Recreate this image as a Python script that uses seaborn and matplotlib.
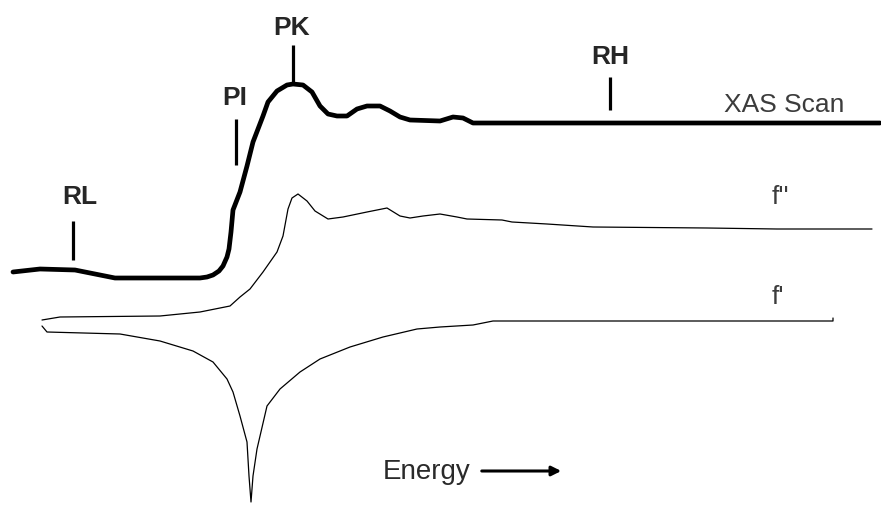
import numpy as np
import pandas as pd
import seaborn as sns
import matplotlib.pyplot as plt

sns.set_style("white")
plt.rcParams["font.family"] = ["Liberation Sans", "DejaVu Sans"]

# curves (energy -> signal, drawing units, y grows downward)
xas_x = [13, 40, 75, 100, 115, 200, 207, 213, 219, 223, 227, 229, 231, 233, 240, 247, 253,
         258, 263, 268, 277, 287, 293, 303, 312, 320, 328, 337, 347, 357, 367, 380, 390,
         400, 410, 440, 453, 463, 473, 880]
xas_y = [273, 270, 271, 276, 279, 279, 278, 276, 272, 267, 258, 250, 233, 211, 193, 167, 143,
         130, 117, 103, 92, 86, 85, 86, 93, 107, 115, 117, 117, 110, 107, 107, 112,
         118, 121, 122, 118, 119, 124, 124]

fpp_x = [42, 60, 160, 200, 230, 240, 250, 263, 277, 283, 288, 292, 298, 307, 315, 328, 343,
         367, 387, 400, 410, 423, 440, 457, 467, 502, 512, 547, 593, 707, 777, 872]
fpp_y = [321, 318, 317, 313, 307, 298, 290, 273, 253, 237, 210, 199, 195, 202, 212, 220, 218,
         213, 209, 217, 219, 217, 215, 218, 220, 221, 223, 225, 228, 229, 230, 230]

fp_x = [42, 47, 120, 160, 193, 213, 227, 233, 240, 247, 249, 251, 253, 257, 267, 280, 300,
        320, 350, 383, 417, 440, 473, 493, 833, 833]
fp_y = [327, 333, 335, 342, 352, 363, 380, 393, 417, 443, 477, 503, 477, 450, 407, 390, 373,
        360, 348, 338, 330, 328, 326, 322, 322, 319]

# marker labels: name, tick energy, tick top/bottom, text centre
marks = ["RL", "PI", "PK", "RH"]
mark_x = [73, 236, 293, 610]
mark_top = [222, 120, 46, 78]
mark_bot = [261, 166, 85, 111]
mark_text_x = [80, 235, 292, 610]
mark_text_y = [197, 98, 28, 57]

fig = plt.figure(figsize=(8.81, 5.06), dpi=100)
ax = fig.add_axes([0, 0, 1, 1])

sns.lineplot(x=xas_x, y=xas_y, ax=ax, color="black", lw=3.4, sort=False, estimator=None)
sns.lineplot(x=fpp_x, y=fpp_y, ax=ax, color="black", lw=0.9, sort=False, estimator=None)
sns.lineplot(x=fp_x, y=fp_y, ax=ax, color="black", lw=0.9, sort=False, estimator=None)

for name, x, y0, y1, tx, ty in zip(marks, mark_x, mark_top, mark_bot, mark_text_x, mark_text_y):
    ax.plot([x, x], [y0, y1], color="black", lw=2.3, solid_capstyle="butt")
    ax.text(tx, ty, name, ha="center", va="center", fontsize=19, fontweight="bold")

ax.text(784, 105, "XAS Scan", ha="center", va="center", fontsize=19, color="#3c3c3c")
ax.text(780, 197, "f''", ha="center", va="center", fontsize=19, color="#3c3c3c")
ax.text(778, 297, "f'", ha="center", va="center", fontsize=19, color="#3c3c3c")
ax.text(383, 472, "Energy", ha="left", va="center", fontsize=20, color="#2a2a2a")
ax.annotate("", xy=(564, 472), xytext=(479, 472),
            arrowprops=dict(arrowstyle="-|>", color="black", lw=2.2, mutation_scale=14))

ax.set_xlim(0, 881)
ax.set_ylim(506, 0)
ax.axis("off")
fig.savefig("out.png", dpi=100, facecolor="white")
